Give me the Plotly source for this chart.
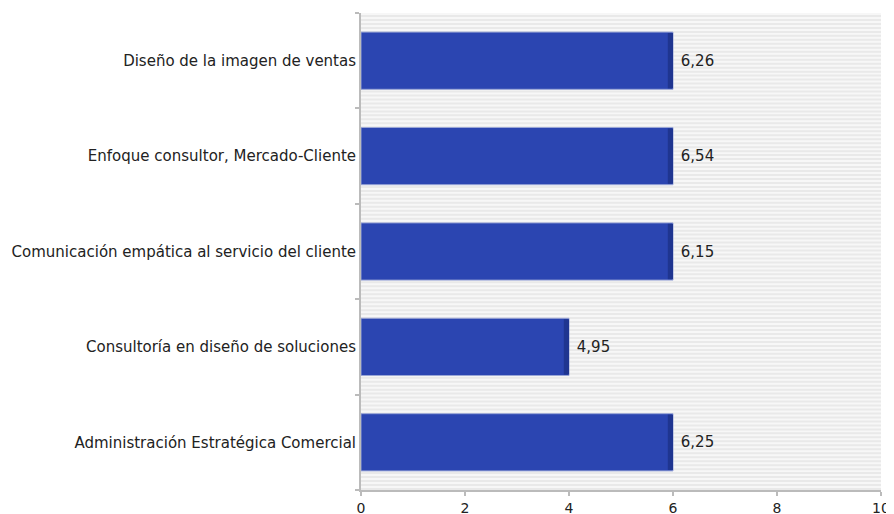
import plotly.graph_objects as go

categories = [
    "Administración Estratégica Comercial",
    "Consultoría en diseño de soluciones",
    "Comunicación empática al servicio del cliente",
    "Enfoque consultor, Mercado-Cliente",
    "Diseño de la imagen de ventas",
]
scores = [6.25, 4.95, 6.15, 6.54, 6.26]
score_labels = ["6,25", "4,95", "6,15", "6,54", "6,26"]
bar_lengths = [6, 4, 6, 6, 6]
x_ticks = [0, 2, 4, 6, 8, 10]

FS = 15
edge = 0.1
fig = go.Figure()
fig.add_trace(go.Bar(
    y=categories, x=bar_lengths, orientation="h", width=0.6,
    marker=dict(color="#2b45b1", line=dict(color="#9aa6d6", width=1)),
    text=score_labels, texttemplate=" %{text}", textposition="outside",
    textfont=dict(family="DejaVu Sans", size=FS, color="#222"),
    cliponaxis=False, hoverinfo="skip",
))
fig.add_trace(go.Bar(
    y=categories, x=[edge] * len(bar_lengths), base=[v - edge for v in bar_lengths],
    orientation="h", width=0.58,
    marker=dict(color="#1f3590", line=dict(width=0)), hoverinfo="skip",
))

shapes = []
n = 120
for i in range(n):
    shapes.append(dict(type="rect", xref="paper", yref="paper", x0=0, x1=1,
                       y0=i / n, y1=(i + 0.5) / n, fillcolor="#e9e9e9",
                       line=dict(width=0), layer="below"))

# page body has an 8px default margin; compensate so the plot lands where the reference has it
fig.update_layout(
    width=894, height=514,
    margin=dict(l=353, r=21, t=5, b=32, pad=0),
    paper_bgcolor="white", plot_bgcolor="#f7f7f7",
    showlegend=False, barmode="overlay", shapes=shapes,
    font=dict(family="DejaVu Sans", size=FS, color="#222"),
    xaxis=dict(range=[0, 10], tickvals=x_ticks, ticktext=[str(t) for t in x_ticks],
               automargin=False,
               showgrid=False, zeroline=False, showline=True, linecolor="#bbb", linewidth=2,
               ticks="outside", ticklen=4, tickcolor="#bbb", tickwidth=2,
               ticklabelstandoff=0,
               tickfont=dict(size=14, color="#222")),
    yaxis=dict(showgrid=False, zeroline=False, showline=True, linecolor="#bbb", linewidth=2,
               automargin=False,
               ticks="outside", ticklen=4, tickcolor="#bbb", tickwidth=2,
               tickson="boundaries", ticklabelstandoff=0,
               tickfont=dict(size=FS, color="#222"), range=[-0.5, 4.5]),
)
fig.write_html("out.html")
